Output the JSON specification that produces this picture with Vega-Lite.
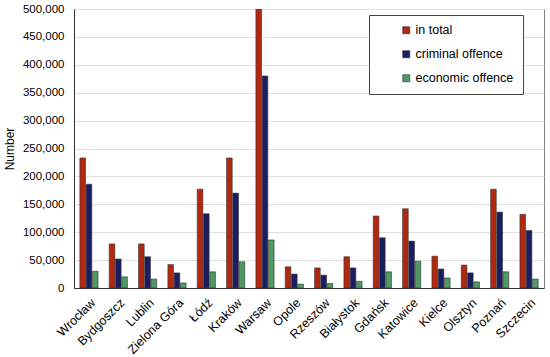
{
  "$schema": "https://vega.github.io/schema/vega-lite/v6.json",
  "autosize": {"type": "none"},
  "width": 470,
  "height": 279,
  "padding": {"left": 74, "top": 9, "right": 6, "bottom": 69},
  "background": "white",
  "config": {
    "font": "Liberation Sans",
    "view": {"stroke": "#808080", "strokeWidth": 1}
  },
  "data": {
    "values": [
      {"city": "Wrocław", "type": "in total", "value": 233000},
      {"city": "Wrocław", "type": "criminal offence", "value": 186000},
      {"city": "Wrocław", "type": "economic offence", "value": 30000},
      {"city": "Bydgoszcz", "type": "in total", "value": 79000},
      {"city": "Bydgoszcz", "type": "criminal offence", "value": 52000},
      {"city": "Bydgoszcz", "type": "economic offence", "value": 20000},
      {"city": "Lublin", "type": "in total", "value": 79000},
      {"city": "Lublin", "type": "criminal offence", "value": 56000},
      {"city": "Lublin", "type": "economic offence", "value": 16000},
      {"city": "Zielona Góra", "type": "in total", "value": 42000},
      {"city": "Zielona Góra", "type": "criminal offence", "value": 27000},
      {"city": "Zielona Góra", "type": "economic offence", "value": 9000},
      {"city": "Łódź", "type": "in total", "value": 177000},
      {"city": "Łódź", "type": "criminal offence", "value": 133000},
      {"city": "Łódź", "type": "economic offence", "value": 29000},
      {"city": "Kraków", "type": "in total", "value": 233000},
      {"city": "Kraków", "type": "criminal offence", "value": 170000},
      {"city": "Kraków", "type": "economic offence", "value": 47000},
      {"city": "Warsaw", "type": "in total", "value": 500000},
      {"city": "Warsaw", "type": "criminal offence", "value": 380000},
      {"city": "Warsaw", "type": "economic offence", "value": 86000},
      {"city": "Opole", "type": "in total", "value": 38000},
      {"city": "Opole", "type": "criminal offence", "value": 25000},
      {"city": "Opole", "type": "economic offence", "value": 7000},
      {"city": "Rzeszów", "type": "in total", "value": 36000},
      {"city": "Rzeszów", "type": "criminal offence", "value": 23000},
      {"city": "Rzeszów", "type": "economic offence", "value": 8000},
      {"city": "Białystok", "type": "in total", "value": 56000},
      {"city": "Białystok", "type": "criminal offence", "value": 36000},
      {"city": "Białystok", "type": "economic offence", "value": 12000},
      {"city": "Gdańsk", "type": "in total", "value": 129000},
      {"city": "Gdańsk", "type": "criminal offence", "value": 90000},
      {"city": "Gdańsk", "type": "economic offence", "value": 29000},
      {"city": "Katowice", "type": "in total", "value": 142000},
      {"city": "Katowice", "type": "criminal offence", "value": 84000},
      {"city": "Katowice", "type": "economic offence", "value": 48000},
      {"city": "Kielce", "type": "in total", "value": 57000},
      {"city": "Kielce", "type": "criminal offence", "value": 34000},
      {"city": "Kielce", "type": "economic offence", "value": 18000},
      {"city": "Olsztyn", "type": "in total", "value": 41000},
      {"city": "Olsztyn", "type": "criminal offence", "value": 27000},
      {"city": "Olsztyn", "type": "economic offence", "value": 11000},
      {"city": "Poznań", "type": "in total", "value": 177000},
      {"city": "Poznań", "type": "criminal offence", "value": 136000},
      {"city": "Poznań", "type": "economic offence", "value": 29000},
      {"city": "Szczecin", "type": "in total", "value": 132000},
      {"city": "Szczecin", "type": "criminal offence", "value": 103000},
      {"city": "Szczecin", "type": "economic offence", "value": 16000}
    ]
  },
  "mark": {"type": "bar", "stroke": "#333333", "strokeWidth": 0.6, "clip": true},
  "encoding": {
    "x": {
      "field": "city",
      "type": "nominal",
      "sort": null,
      "scale": {"paddingInner": 0.38, "paddingOuter": 0.2},
      "axis": {
        "title": null,
        "labelAngle": -45,
        "labelFontSize": 12.5,
        "labelLimit": 200,
        "labelOverlap": false,
        "labelColor": "#000000",
        "ticks": false,
        "labelPadding": 8,
        "domainColor": "#333333",
        "grid": false
      }
    },
    "xOffset": {
      "field": "type",
      "type": "nominal",
      "sort": ["in total", "criminal offence", "economic offence"],
      "scale": {"paddingInner": 0.1}
    },
    "y": {
      "field": "value",
      "type": "quantitative",
      "scale": {"domain": [0, 500000], "nice": false},
      "axis": {
        "title": "Number",
        "titleFontSize": 12,
        "titleFontWeight": "normal",
        "titleColor": "#000000",
        "titlePadding": 6,
        "values": [0, 50000, 100000, 150000, 200000, 250000, 300000, 350000, 400000, 450000, 500000],
        "format": ",d",
        "labelFontSize": 11.5,
        "labelColor": "#000000",
        "ticks": false,
        "labelPadding": 10,
        "domainColor": "#333333",
        "gridColor": "#e0e0e0"
      }
    },
    "color": {
      "field": "type",
      "type": "nominal",
      "sort": ["in total", "criminal offence", "economic offence"],
      "scale": {
        "domain": ["in total", "criminal offence", "economic offence"],
        "range": ["#b0280f", "#1b1e60", "#4f9a63"]
      },
      "legend": {
        "title": null,
        "orient": "none",
        "legendX": 295,
        "legendY": 6,
        "direction": "vertical",
        "symbolType": "square",
        "symbolSize": 50,
        "symbolOffset": 22,
        "symbolStrokeColor": "#333333",
        "symbolStrokeWidth": 0.6,
        "labelFontSize": 12.5,
        "labelOffset": 3,
        "labelColor": "#000000",
        "rowPadding": 11,
        "padding": 9,
        "strokeColor": "#444444",
        "fillColor": "white",
        "labelLimit": 200
      }
    }
  }
}
